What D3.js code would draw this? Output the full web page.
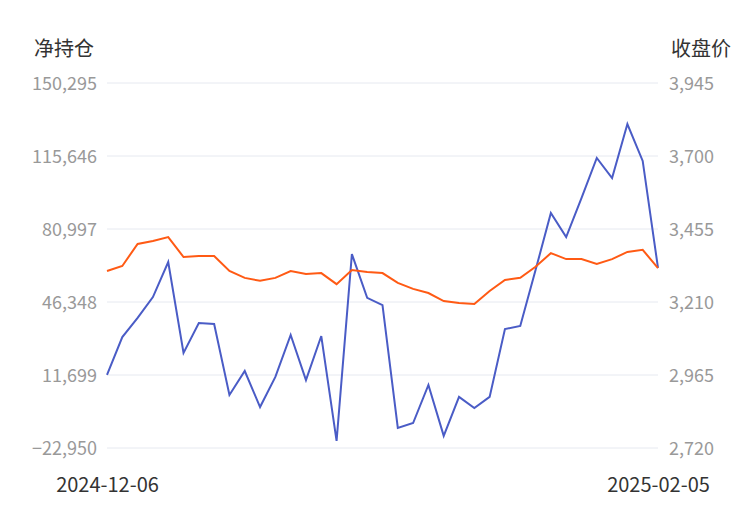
<!DOCTYPE html>
<html><head><meta charset="utf-8">
<script src="https://cdn.jsdelivr.net/npm/d3@7"></script>
<style>body{margin:0;background:#fff}</style>
</head><body><div></div>
<script>
// datos
var dates = ['2024-12-06','2024-12-09','2024-12-10','2024-12-11','2024-12-12','2024-12-13',
  '2024-12-16','2024-12-17','2024-12-18','2024-12-19','2024-12-20','2024-12-23','2024-12-24',
  '2024-12-25','2024-12-26','2024-12-27','2024-12-30','2024-12-31','2025-01-02','2025-01-03',
  '2025-01-06','2025-01-07','2025-01-08','2025-01-09','2025-01-10','2025-01-13','2025-01-14',
  '2025-01-15','2025-01-16','2025-01-17','2025-01-20','2025-01-21','2025-01-22','2025-01-23',
  '2025-01-24','2025-01-27','2025-02-05'];
var netPos = [11700,29700,38800,48700,65300,22200,36400,35900,2200,13600,-3500,10800,30700,
  9300,30200,-19600,69100,48300,44900,-13400,-11100,7000,-17200,1300,-4000,1300,33500,35000,
  61500,88600,77200,95700,114700,105200,130800,113300,62500];
var closePx = [3314,3331,3405,3415,3428,3361,3364,3364,3314,3291,3281,3291,3314,3304,3307,
  3270,3317,3311,3307,3274,3254,3240,3213,3207,3203,3247,3284,3291,3328,3374,3354,3354,3338,
  3354,3378,3385,3324];
var leftTicks = [-22950,11699,46348,80997,115646,150295];
var rightTicks = [2720,2965,3210,3455,3700,3945];

var w = 750, h = 510;
var pLeft = 107, pRight = 658, pTop = 83, pBottom = 448;
var svg = d3.select('div').append('svg').attr('width', w).attr('height', h)
  .style('font-family', '"Noto Sans CJK SC","Noto Sans",sans-serif');

var x = d3.scalePoint().domain(dates).range([pLeft, pRight]);
var yL = d3.scaleLinear().domain([-22950,150295]).range([pBottom, pTop]);
var yR = d3.scaleLinear().domain([2720,3945]).range([pBottom, pTop]);

// rejilla
svg.append('g').selectAll('line').data(leftTicks).enter().append('line')
  .attr('x1', pLeft).attr('x2', pRight)
  .attr('y1', d => yL(d)).attr('y2', d => yL(d))
  .attr('stroke', '#e6e9f0').attr('stroke-width', 1);

var axL = svg.append('g').attr('transform','translate('+(pLeft-7)+',0)')
  .call(d3.axisLeft(yL).tickValues(leftTicks).tickSize(0).tickFormat(d3.format(',')));
var axR = svg.append('g').attr('transform','translate('+(pRight+8)+',0)')
  .call(d3.axisRight(yR).tickValues(rightTicks).tickSize(0).tickFormat(d3.format(',')));
[axL, axR].forEach(a => {
  a.select('.domain').remove();
  a.selectAll('text').attr('fill','#999').style('font-size','18px')
    .style('font-family','"Noto Sans CJK SC","Noto Sans",sans-serif').attr('dy','0.35em');
});

var axB = svg.append('g').attr('transform','translate(0,'+(pBottom+34)+')')
  .call(d3.axisBottom(x).tickValues([dates[0], dates[dates.length-1]]).tickSize(0));
axB.select('.domain').remove();
axB.selectAll('text').attr('fill','#333').style('font-size','20px')
  .style('font-family','"Noto Sans CJK SC","Noto Sans",sans-serif').attr('dy','0.35em');

svg.append('text').attr('x', 34).attr('y', 56).text('净持仓')
  .attr('fill','#333').style('font-size','20px');
svg.append('text').attr('x', 731).attr('y', 56).attr('text-anchor','end').text('收盘价')
  .attr('fill','#333').style('font-size','20px');

svg.append('path').datum(netPos)
  .attr('d', d3.line().x((d,i) => x(dates[i])).y(d => yL(d)))
  .attr('fill','none').attr('stroke','#4a5cc6').attr('stroke-width',2);
svg.append('path').datum(closePx)
  .attr('d', d3.line().x((d,i) => x(dates[i])).y(d => yR(d)))
  .attr('fill','none').attr('stroke','#ff5a14').attr('stroke-width',2);
</script>
</body></html>
